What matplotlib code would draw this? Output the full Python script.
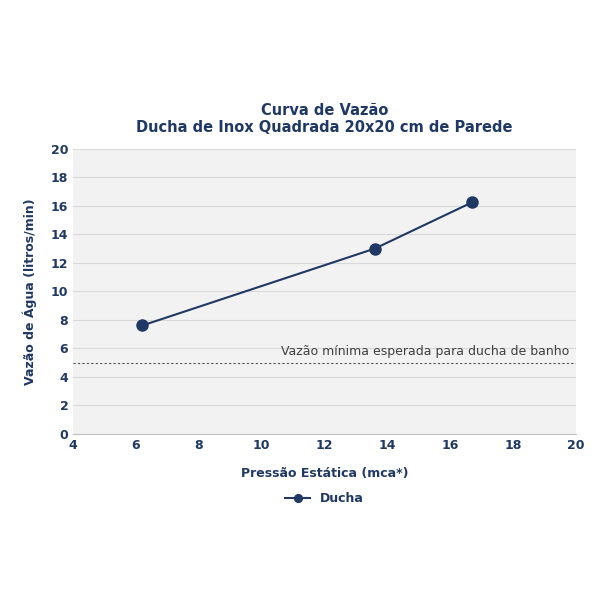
import matplotlib
matplotlib.use("Agg")
import matplotlib.pyplot as plt

pressure = [6.2, 13.6, 16.7]
flow = [7.6, 13.0, 16.25]
min_flow = 5
xticks = [4, 6, 8, 10, 12, 14, 16, 18, 20]
yticks = [0, 2, 4, 6, 8, 10, 12, 14, 16, 18, 20]

navy = "#1f3864"
fig = plt.figure(figsize=(6, 6), dpi=100)
ax = fig.add_axes([0.122, 0.277, 0.838, 0.475])
ax.set_facecolor("#f2f2f2")
for y in yticks[1:]:
    ax.axhline(y, color="#d9d9d9", lw=0.8, zorder=0)
ax.plot(pressure, flow, color=navy, lw=1.5, marker="o", ms=8, label="Ducha", zorder=3)
ax.axhline(min_flow, color="#555555", lw=0.8, ls=(0, (2, 2)), zorder=1)
ax.text(19.8, min_flow + 0.3, "Vazão mínima esperada para ducha de banho",
        ha="right", va="bottom", fontsize=9, color="#404040")
ax.set_xlim(4, 20)
ax.set_ylim(0, 20)
ax.set_xticks(xticks)
ax.set_yticks(yticks)
ax.tick_params(length=0, labelsize=9, labelcolor=navy)
for lbl in ax.get_xticklabels() + ax.get_yticklabels():
    lbl.set_fontweight("bold")
for s in ["top", "right", "left"]:
    ax.spines[s].set_visible(False)
ax.spines["bottom"].set_color("#bfbfbf")
ax.set_xlabel("Pressão Estática (mca*)", fontsize=9, fontweight="bold", color=navy, labelpad=11)
ax.set_ylabel("Vazão de Água (litros/min)", fontsize=9, fontweight="bold", color=navy, labelpad=10)
ax.set_title("Curva de Vazão\nDucha de Inox Quadrada 20x20 cm de Parede",
             fontsize=10.5, fontweight="bold", color=navy, pad=12)
leg = ax.legend(loc="upper center", bbox_to_anchor=(0.5, -0.165), frameon=False,
                fontsize=9, handlelength=2, markerscale=0.7)
for t in leg.get_texts():
    t.set_color(navy); t.set_fontweight("bold")
fig.savefig("out.png", dpi=100, facecolor="white")
